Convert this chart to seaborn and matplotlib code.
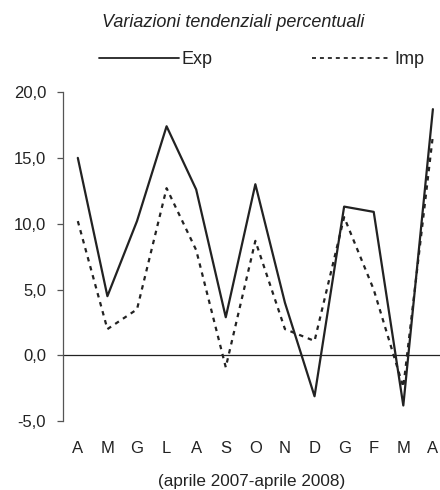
import matplotlib
matplotlib.use("Agg")
import matplotlib.pyplot as plt
import seaborn as sns
import pandas as pd
from matplotlib.ticker import FuncFormatter
from matplotlib.lines import Line2D

months = ["A", "M", "G", "L", "A", "S", "O", "N", "D", "G", "F", "M", "A"]
exp_vals = [15.0, 4.5, 10.2, 17.4, 12.6, 2.9, 13.0, 4.0, -3.1, 11.3, 10.9, -3.8, 18.7]
imp_vals = [10.2, 2.0, 3.5, 12.7, 8.0, -0.9, 8.7, 2.0, 1.1, 10.5, 5.0, -2.4, 16.7]
title = "Variazioni tendenziali percentuali"
xlabel = "(aprile 2007-aprile 2008)"
yticks = [-5, 0, 5, 10, 15, 20]

sns.set_theme(style="white")
plt.rcParams['font.family'] = ['Liberation Sans', 'DejaVu Sans']

df = pd.DataFrame({
    "pos": list(range(len(months))) * 2,
    "val": exp_vals + imp_vals,
    "serie": ["Exp"] * len(months) + ["Imp"] * len(months),
})

c = "#222222"
fig = plt.figure(figsize=(4.4, 4.9), dpi=100)
ax = fig.add_axes([0.1439, 0.1402, 0.8561, 0.672])

sns.lineplot(data=df[df.serie == "Exp"], x="pos", y="val", ax=ax, color=c,
             linewidth=1.6, legend=False)
sns.lineplot(data=df[df.serie == "Imp"], x="pos", y="val", ax=ax, color=c,
             linewidth=1.6, linestyle=(0, (2.0, 2.2)), legend=False)

ax.axhline(0, color=c, linewidth=0.9, zorder=0)
ax.set_xlim(-0.49, 12.24)
ax.set_ylim(-5, 20)
ax.set_yticks(yticks)
ax.yaxis.set_major_formatter(FuncFormatter(lambda v, p: f"{v:.1f}".replace(".", ",")))
ax.set_xticks(range(len(months)))
ax.set_xticklabels(months)
for s in ["top", "right", "bottom"]:
    ax.spines[s].set_visible(False)
ax.spines["left"].set_color("#555555")
ax.spines["left"].set_linewidth(0.9)
ax.tick_params(axis="y", which="major", left=True, length=4.3, width=0.9, color="#555555",
               labelsize=12, labelcolor=c, pad=8)
ax.tick_params(axis="x", bottom=False, labelsize=12, labelcolor=c, pad=8)
ax.set_xlabel(xlabel, fontsize=12.3, color=c, labelpad=13)
ax.set_ylabel("")

fig.text(0.53, 0.955, title, ha="center", va="center", fontsize=13,
         style="italic", color=c)

handles = [Line2D([], [], color=c, linewidth=1.3),
           Line2D([], [], color=c, linewidth=1.3, linestyle=(0, (2.2, 2.2)))]
fig.legend(handles, ["Exp", "Imp"], loc="center", bbox_to_anchor=(0.595, 0.878),
           ncol=2, frameon=False, fontsize=13, handlelength=4.4,
           handletextpad=0.15, columnspacing=5.5, labelcolor=c)

fig.savefig("out.png", dpi=100)
